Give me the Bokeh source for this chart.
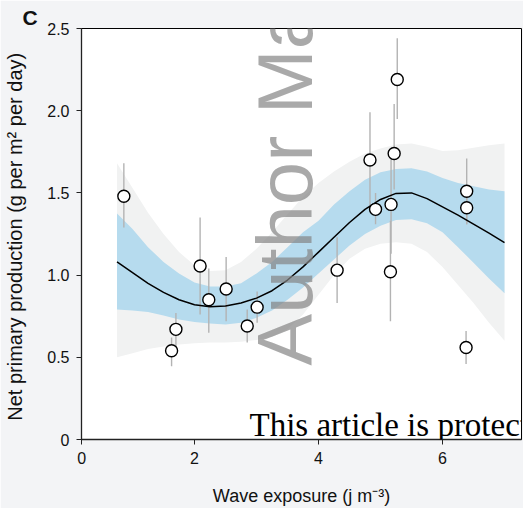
import math
from bokeh.plotting import figure
from bokeh.models import ColumnDataSource, FixedTicker, Label
from bokeh.embed import file_html
from bokeh.resources import INLINE

# ---- data ----
pt_x  = [0.86, 1.63, 1.70, 2.09, 2.23, 2.51, 2.85, 3.01, 4.30, 4.83, 4.92, 5.16, 5.17, 5.22, 5.27, 6.39, 6.39, 6.38]
pt_y  = [1.48, 0.54, 0.67, 1.055, 0.85, 0.915, 0.69, 0.805, 1.03, 1.70, 1.40, 1.02, 1.43, 1.74, 2.19, 1.51, 1.41, 0.56]
pt_lo = [1.29, 0.445, 0.56, 0.76, 0.65, 0.72, 0.59, 0.71, 0.83, 1.41, 1.31, 0.72, 1.13, 1.52, 1.95, 1.31, 1.31, 0.46]
pt_hi = [1.68, 0.62, 0.77, 1.35, 1.04, 1.11, 0.79, 0.90, 1.23, 1.99, 1.50, 1.33, 1.71, 2.04, 2.44, 1.71, 1.51, 0.66]

fit_x = [0.75, 1.0, 1.25, 1.5, 1.75, 2.0, 2.25, 2.5, 2.75, 3.0, 3.25, 3.5, 3.75,
         4.0, 4.25, 4.5, 4.75, 5.0, 5.25, 5.5, 5.75, 6.0, 6.25, 6.5, 6.75, 7.0]
fit_y = [1.08, 1.015, 0.95, 0.895, 0.85, 0.82, 0.808, 0.812, 0.83, 0.86, 0.905, 0.97, 1.05,
         1.14, 1.23, 1.32, 1.40, 1.46, 1.497, 1.50, 1.465, 1.415, 1.365, 1.31, 1.255, 1.197]
ci_hi = [1.375, 1.28, 1.17, 1.08, 1.01, 0.955, 0.93, 0.93, 0.95, 1.01, 1.08, 1.17, 1.26,
         1.33, 1.43, 1.51, 1.58, 1.625, 1.645, 1.65, 1.63, 1.59, 1.56, 1.54, 1.52, 1.51]
ci_lo = [0.79, 0.785, 0.775, 0.755, 0.73, 0.715, 0.705, 0.70, 0.71, 0.74, 0.785, 0.85, 0.925,
         1.01, 1.095, 1.18, 1.25, 1.30, 1.335, 1.34, 1.315, 1.26, 1.17, 1.075, 0.98, 0.89]
pi_hi = [1.68, 1.53, 1.38, 1.25, 1.14, 1.06, 1.025, 1.03, 1.08, 1.16, 1.26, 1.37, 1.475,
         1.56, 1.63, 1.69, 1.74, 1.77, 1.795, 1.80, 1.78, 1.755, 1.76, 1.775, 1.79, 1.80]
pi_lo = [0.50, 0.525, 0.55, 0.565, 0.578, 0.585, 0.59, 0.59, 0.595, 0.605, 0.625, 0.67, 0.76,
         0.88, 1.00, 1.10, 1.16, 1.19, 1.20, 1.19, 1.14, 1.05, 0.94, 0.83, 0.71, 0.60]

x_ticks = [0.18, 2, 4, 6]
x_tick_labels = ["0", "2", "4", "6"]
y_ticks = [0, 0.5, 1.0, 1.5, 2.0, 2.5]
y_tick_labels = ["0", "0.5", "1.0", "1.5", "2.0", "2.5"]

FONT = "Liberation Sans"

p = figure(width=523, height=508, output_backend="svg", toolbar_location=None,
           x_range=(0.177, 7.274), y_range=(0, 2.5),
           min_border_left=81, min_border_right=2, min_border_top=28, min_border_bottom=68)
p.background_fill_color = "white"
p.border_fill_color = "#f3f4f6"
p.outline_line_color = "black"
p.outline_line_width = 1
p.grid.visible = False

# panel letter as the title
p.title.text = "C"
p.title.align = "left"
p.title.offset = -59
p.title.standoff = 0
p.title.text_font = FONT
p.title.text_font_size = "21px"
p.title.text_font_style = "bold"
p.title.text_color = "#111111"

pts = ColumnDataSource(dict(x=pt_x, y=pt_y, lo=pt_lo, hi=pt_hi))
fit = ColumnDataSource(dict(x=fit_x, y=fit_y, cl=ci_lo, ch=ci_hi, pl=pi_lo, ph=pi_hi))

p.varea(x="x", y1="pl", y2="ph", source=fit, fill_color="#f1f2f2")
p.varea(x="x", y1="cl", y2="ch", source=fit, fill_color="#b6dbee")
p.segment(x0="x", y0="lo", x1="x", y1="hi", source=pts, line_color="#b3b3b3", line_width=1.4)
p.line(x="x", y="y", source=fit, line_color="black", line_width=1.5)
p.scatter(x="x", y="y", source=pts, size=12, fill_color="white", line_color="black", line_width=1.4)

# axes
p.xaxis.ticker = FixedTicker(ticks=x_ticks)
p.xaxis.major_label_overrides = {t: l for t, l in zip(x_ticks, x_tick_labels)}
p.yaxis.ticker = FixedTicker(ticks=y_ticks)
p.yaxis.major_label_overrides = {t: l for t, l in zip(y_ticks, y_tick_labels)}
for ax in (p.xaxis, p.yaxis):
    ax.minor_tick_line_color = None
    ax.major_tick_in = 0
    ax.major_tick_out = 5
    ax.axis_line_color = "#222222"
    ax.axis_line_width = 1.3
    ax.major_tick_line_color = "#222222"
    ax.major_label_text_font = FONT
    ax.major_label_text_font_size = "16px"
    ax.major_label_text_color = "#111111"
    ax.major_label_standoff = 7
    ax.axis_label_text_font = FONT
    ax.axis_label_text_font_style = "normal"
    ax.axis_label_text_color = "#111111"
p.xaxis.axis_label = "Wave exposure (j m\u207b\u00b3)"
p.xaxis.axis_label_text_font_size = "18px"
p.xaxis.axis_label_standoff = 19
p.yaxis.axis_label = "Net primary production  (g per m\u00b2 per day)"
p.yaxis.axis_label_text_font_size = "20px"
p.yaxis.axis_label_standoff = 18

# watermark texts
p.add_layout(Label(x=3.467, y=0.449, text="Author Manuscript", angle=math.pi / 2,
                   text_font=FONT, text_font_size="78px", text_color="#848484",
                   text_alpha=0.7, text_baseline="alphabetic", text_align="left"))
p.add_layout(Label(x=2.887, y=0.09, text="This article is protected by copyright. All rights reserved",
                   text_font="Liberation Serif", text_font_size="33px", text_color="black",
                   text_baseline="alphabetic", text_align="left"))

open("out.html", "w").write(file_html(p, INLINE))
